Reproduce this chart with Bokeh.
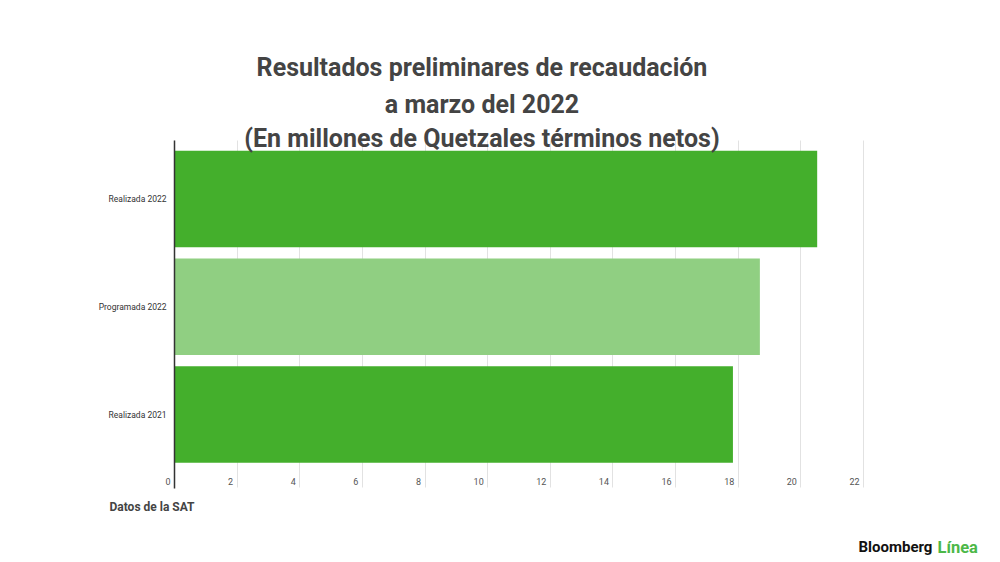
from bokeh.plotting import figure
from bokeh.models import FixedTicker, ColumnDataSource, Range1d, Grid
from bokeh.core.properties import value
from bokeh.embed import file_html
from bokeh.resources import INLINE

categories = ["Realizada 2021", "Programada 2022", "Realizada 2022"]
values = [17.83, 18.69, 20.52]
colors = ["#44AF2C", "#90CF82", "#44AF2C"]
x_ticks = [0, 2, 4, 6, 8, 10, 12, 14, 16, 18, 20, 22]
x_tick_labels = [str(t) for t in x_ticks]
title_lines = ["Resultados preliminares de recaudación",
               "a marzo del 2022",
               "(En millones de Quetzales términos netos)"]
source_note = "Datos de la SAT"
brand_1 = "Bloomberg"
brand_2 = "Línea"

W, H = 1000, 562
FONT = "Roboto"

# page-pixel <-> data mapping (frame covers the whole canvas)
PX_X = 31.32      # pixels per value unit
PX_Y = 107.8      # pixels per category step
X0 = 174          # page column of value 0
Y0 = 414          # page row of first category centre


def X(px):
    return (px - X0) / PX_X


def Y(py):
    return (Y0 - py) / PX_Y


p = figure(width=W, height=H, output_backend="svg", toolbar_location=None,
           x_range=Range1d(X(0), X(W)), y_range=Range1d(Y(H), Y(0)),
           x_axis_location=None, y_axis_location=None, min_border=0)
p.outline_line_color = None
p.background_fill_color = "white"
p.border_fill_color = "white"
p.grid.visible = False

# vertical grid lines, limited to the plotting band
p.add_layout(Grid(dimension=0, ticker=FixedTicker(ticks=x_ticks),
                  grid_line_color="#e2e2e2", grid_line_width=1,
                  cross_bounds=(Y(487), Y(140))))

# bars
ys = list(range(len(categories)))
src = ColumnDataSource(dict(y=ys, v=values, c=colors))
p.hbar(y="y", left=0, right="v", height=0.895, fill_color="c", line_color=None, source=src)

# value axis line at 0, drawn over the bars
p.add_layout(Grid(dimension=0, ticker=FixedTicker(ticks=[0]),
                  grid_line_color="#333333", grid_line_width=1.5,
                  cross_bounds=(Y(488), Y(140)), level="overlay"))

# category labels
csrc = ColumnDataSource(dict(x=[0] * len(categories), y=ys, t=categories))
p.text(x="x", y="y", text="t", source=csrc, text_align="right", text_baseline="middle",
       x_offset=-8, text_font=value(FONT), text_font_size="8.5px", text_color="#333333")

# x tick labels (left of each grid line)
tsrc = ColumnDataSource(dict(x=x_ticks, y=[Y(481)] * len(x_ticks), t=x_tick_labels))
p.text(x="x", y="y", text="t", source=tsrc, text_align="right", text_baseline="middle",
       x_offset=-4, text_font=value(FONT), text_font_size="9px", text_color="#555555")

# title
hsrc = ColumnDataSource(dict(x=[X(481.5)] * 3, y=[Y(66.7), Y(104.2), Y(137.5)], t=title_lines))
p.text(x="x", y="y", text="t", source=hsrc, text_align="center", text_baseline="alphabetic",
       text_font=value(FONT), text_font_style="bold", text_font_size="25px",
       text_color="#444444")

# footer
p.text(x=[X(109)], y=[Y(506)], text=[source_note], text_align="left", text_baseline="alphabetic",
       text_font=value(FONT), text_font_style="bold", text_font_size="12px",
       text_color="#444444")
p.text(x=[X(858)], y=[Y(546.5)], text=[brand_1], text_align="left", text_baseline="alphabetic",
       text_font=value(FONT), text_font_style="bold", text_font_size="15px",
       text_color="#111111")
p.text(x=[X(937)], y=[Y(546.5)], text=[brand_2], text_align="left", text_baseline="alphabetic",
       text_font=value(FONT), text_font_style="bold", text_font_size="16.5px",
       text_color="#4CB848")

open("out.html", "w").write(file_html(p, INLINE))
